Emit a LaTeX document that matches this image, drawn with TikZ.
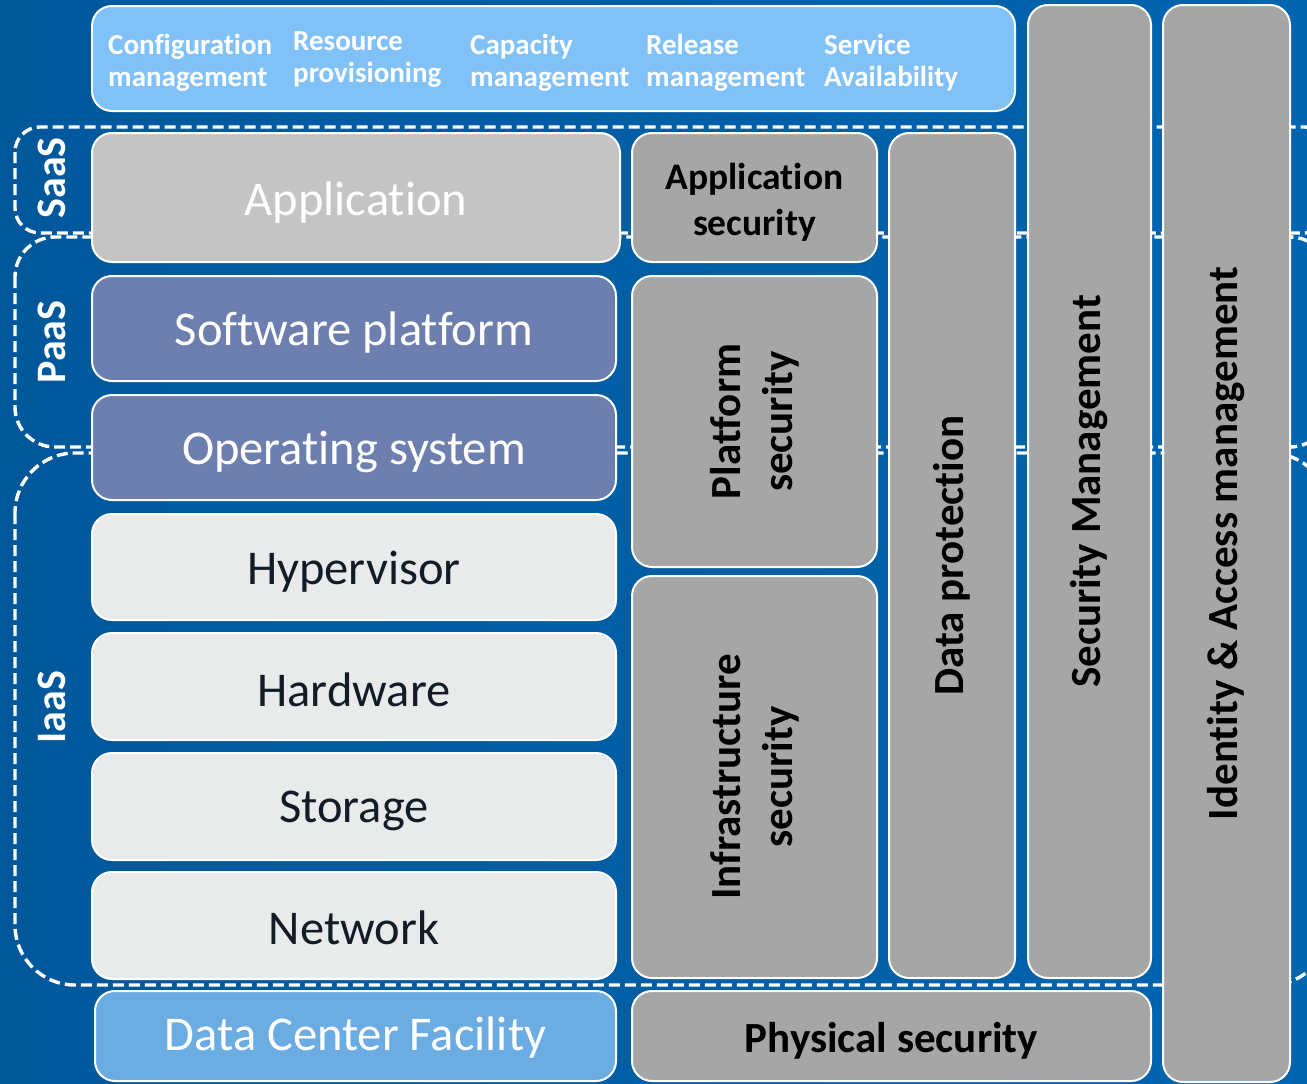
\documentclass[tikz,border=0pt]{standalone}
\usepackage{fontspec}
\setmainfont{Carlito}[Ligatures=NoCommon]
\definecolor{bgl}{HTML}{00589B}
\definecolor{bgr}{HTML}{0064AF}
\definecolor{topc}{HTML}{80C2F8}
\definecolor{appc}{HTML}{C4C4C4}
\definecolor{grayc}{HTML}{A6A6A6}
\definecolor{paasc}{HTML}{6C7FAE}
\definecolor{iaasc}{HTML}{E9EBEA}
\definecolor{dcc}{HTML}{6BADE3}
\definecolor{darktxt}{HTML}{111C26}
\tikzset{
  box/.style={draw=white, line width=2pt, rounded corners=20pt, inner sep=0pt, outer sep=0pt, anchor=north west, align=center},
  region/.style={draw=white, line width=3.4pt, dash pattern=on 11pt off 5pt},
  toplbl/.style={anchor=north west, inner sep=0pt, text=white, align=left, font=\fontsize{29}{32}\selectfont\bfseries},
  bigtxt/.style={font=\fontsize{48.5}{56}\selectfont},
  boldtxt/.style={font=\fontsize{43}{52}\selectfont\bfseries},
  hlbl/.style={inner sep=0pt},
  vlbl/.style={text=white, font=\fontsize{42}{50}\selectfont\bfseries, rotate=90, inner sep=0pt}
}
\begin{document}
\begin{tikzpicture}[x=1pt,y=-1pt]
\useasboundingbox (0,0) rectangle (1307,1084);
\shade[left color=bgl, right color=bgr] (0,0) rectangle (1307,1084);
\clip (0,0) rectangle (1307,1084);
% dashed service regions
\draw[region, rounded corners=25pt] (15,127) rectangle (1330,233);
\draw[region, rounded corners=40pt] (15,237) rectangle (1330,447);
\draw[region, rounded corners=60pt] (15,453) rectangle (1330,985);
\node[vlbl] (saas) at (52,178) {SaaS};
\node[vlbl] (paas) at (52,342) {PaaS};
\node[vlbl] (iaas) at (52,707) {IaaS};
% top management box
\node[box, fill=topc, minimum width=923pt, minimum height=105pt] (top) at (92,6) {};
\node[toplbl] (cfg) at (108,34) {Configuration\\management};
\node[toplbl] (res) at (293,31) {Resource\\provisioning};
\node[toplbl] (cap) at (470,34) {Capacity\\management};
\node[toplbl] (rel) at (646,34) {Release\\management};
\node[toplbl] (svc) at (824,34) {Service\\Availability};
% tall columns
\node[box, fill=grayc, minimum width=123pt, minimum height=973pt] (secm) at (1028,5) {};
\node[boldtxt, rotate=90] (secmt) at (secm.center) {Security Management};
\node[box, fill=grayc, minimum width=127pt, minimum height=1077pt] (iam) at (1163,5) {};
\node[boldtxt, rotate=90] (iamt) at (iam.center) {Identity \& Access management};
\node[box, fill=grayc, minimum width=126pt, minimum height=845pt] (dp) at (889,133) {};
\node[boldtxt, rotate=90] (dpt) at (dp.center) {Data protection};
% SaaS row
\node[box, fill=appc, minimum width=528pt, minimum height=129pt] (app) at (92,133) {};
\node[hlbl, text=white, bigtxt] (appt) at ([yshift=-5pt]app.center) {Application};
\node[box, fill=grayc, minimum width=245pt, minimum height=129pt] (appsec) at (632,133) {};
\node[hlbl, align=center, font=\fontsize{37.5}{46}\selectfont\bfseries] (appsect) at ([yshift=-5pt]appsec.center) {Application\\security};
% PaaS rows
\node[box, fill=paasc, minimum width=524pt, minimum height=105pt] (sw) at (92,276) {};
\node[hlbl, text=white, bigtxt] (swt) at ([yshift=-4pt]sw.center) {Software platform};
\node[box, fill=paasc, minimum width=524pt, minimum height=105pt] (os) at (92,395) {};
\node[hlbl, text=white, bigtxt] (ost) at ([yshift=-4pt]os.center) {Operating system};
\node[box, fill=grayc, minimum width=245pt, minimum height=291pt] (plat) at (632,276) {};
\node[boldtxt, rotate=90, align=center] (platt) at (plat.center) {Platform\\security};
% IaaS rows
\node[box, fill=iaasc, minimum width=524pt, minimum height=106pt] (hyp) at (92,514) {};
\node[hlbl, text=darktxt, bigtxt] (hypt) at ([yshift=-5pt]hyp.center) {Hypervisor};
\node[box, fill=iaasc, minimum width=524pt, minimum height=107pt] (hw) at (92,633) {};
\node[hlbl, text=darktxt, bigtxt] (hwt) at ([yshift=-3pt]hw.center) {Hardware};
\node[box, fill=iaasc, minimum width=524pt, minimum height=107pt] (st) at (92,753) {};
\node[hlbl, text=darktxt, bigtxt] (stt) at ([yshift=-4pt]st.center) {Storage};
\node[box, fill=iaasc, minimum width=524pt, minimum height=107pt] (net) at (92,872) {};
\node[hlbl, text=darktxt, bigtxt] (nett) at ([yshift=-2pt]net.center) {Network};
\node[box, fill=grayc, minimum width=245pt, minimum height=402pt] (infra) at (632,576) {};
\node[boldtxt, rotate=90, align=center] (infrat) at (infra.center) {Infrastructure\\security};
% bottom row
\node[box, fill=dcc, minimum width=521pt, minimum height=90pt] (dc) at (95,991) {};
\node[hlbl, text=white, bigtxt] (dct) at ([yshift=-2pt]dc.center) {Data Center Facility};
\node[box, fill=grayc, minimum width=519pt, minimum height=90pt] (phys) at (632,991) {};
\node[hlbl, boldtxt] (physt) at ([yshift=-5pt]phys.center) {Physical security};
\end{tikzpicture}
\end{document}
